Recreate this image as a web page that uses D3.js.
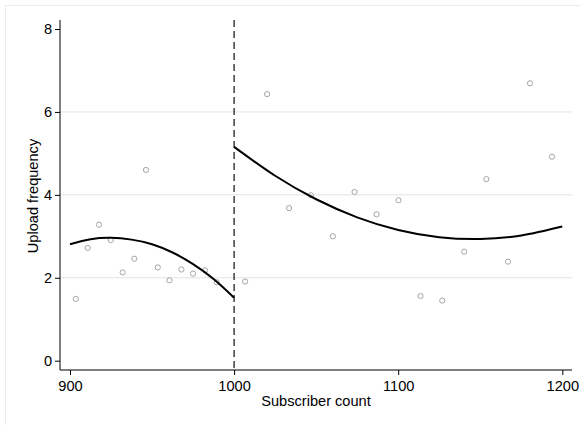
<!DOCTYPE html>
<html>
<head>
<meta charset="utf-8">
<script src="https://cdn.jsdelivr.net/npm/d3@7"></script>
<style>
  html, body { margin: 0; padding: 0; background: #fff; }
  svg { display: block; }
  text { font-family: "Liberation Sans", Arial, sans-serif; fill: #000; }
</style>
</head>
<body>
<svg id="chart" width="581" height="425"></svg>
<script>
// ---- data ----
const cutoff = 1000;
const xTicks = [900, 1000, 1100, 1200];
const yTicks = [0, 2, 4, 6, 8];
const gridTicks = [2, 4, 6];

// binned scatter points
const binX = [903.5, 910.8, 917.7, 924.8, 932.1, 939.2, 946.3, 953.5, 960.6, 967.9, 975.0, 982.3, 989.4,
              1006.7, 1020.1, 1033.5, 1046.8, 1060.2, 1073.4, 1086.8, 1100.2, 1113.6, 1126.8, 1140.2, 1153.7, 1166.9, 1180.3, 1193.7];
const binY = [1.49, 2.72, 3.28, 2.91, 2.13, 2.46, 4.60, 2.25, 1.94, 2.20, 2.10, 2.18, 1.89,
              1.91, 6.43, 3.68, 3.99, 3.00, 4.07, 3.53, 3.87, 1.56, 1.45, 2.63, 4.38, 2.39, 6.69, 4.92];

// fitted curve, left of cutoff
const leftFitX = [900, 912.5, 925, 937.5, 950, 962.5, 975, 987.5, 1000];
const leftFitY = [2.81, 2.93, 2.965, 2.92, 2.81, 2.61, 2.33, 1.97, 1.52];
// fitted curve, right of cutoff
const rightFitX = [1000, 1025, 1050, 1075, 1100, 1125, 1150, 1175, 1200];
const rightFitY = [5.157, 4.46, 3.894, 3.458, 3.153, 2.978, 2.934, 3.02, 3.236];

const xTitle = "Subscriber count";
const yTitle = "Upload frequency";

// ---- layout ----
const svg = d3.select("#chart");
const plot = { left: 60, right: 572, top: 20, bottom: 370 };
const fs = 14.6;

const x = d3.scaleLinear().domain([900, 1200]).range([70, 562.3]);
const y = d3.scaleLinear().domain([0, 8]).range([360.7, 29]);

// outer frame
svg.append("rect")
  .attr("x", 5.5).attr("y", 5.5)
  .attr("width", 620).attr("height", 460)
  .attr("fill", "#fff")
  .attr("stroke", "#e9edf0").attr("stroke-width", 1);

// grid
svg.append("g").selectAll("line").data(gridTicks).join("line")
  .attr("x1", plot.left).attr("x2", plot.right)
  .attr("y1", d => y(d)).attr("y2", d => y(d))
  .attr("stroke", "#e3e3e3").attr("stroke-width", 1);

// axes
const yAxis = d3.axisLeft(y).tickValues(yTicks).tickSize(5).tickPadding(3).tickFormat(d3.format("d"));
const gy = svg.append("g").attr("transform", `translate(${plot.left},0)`).call(yAxis);
gy.select(".domain").remove();
gy.append("line").attr("x1", 0).attr("x2", 0).attr("y1", plot.top).attr("y2", plot.bottom)
  .attr("stroke", "#000").attr("stroke-width", 1);
gy.selectAll(".tick line").attr("stroke", "#000");
gy.selectAll(".tick text").attr("font-size", fs).attr("font-family", "Liberation Sans, Arial, sans-serif").attr("fill", "#000");

const xAxis = d3.axisBottom(x).tickValues(xTicks).tickSize(5).tickPadding(6).tickFormat(d3.format("d"));
const gx = svg.append("g").attr("transform", `translate(0,${plot.bottom})`).call(xAxis);
gx.select(".domain").remove();
gx.append("line").attr("x1", plot.left).attr("x2", plot.right).attr("y1", 0).attr("y2", 0)
  .attr("stroke", "#000").attr("stroke-width", 1);
gx.selectAll(".tick line").attr("stroke", "#000");
gx.selectAll(".tick text").attr("font-size", fs).attr("font-family", "Liberation Sans, Arial, sans-serif").attr("fill", "#000");

// cutoff dashed line
svg.append("line")
  .attr("x1", x(cutoff)).attr("x2", x(cutoff))
  .attr("y1", plot.top).attr("y2", plot.bottom)
  .attr("stroke", "#222").attr("stroke-width", 1.3)
  .attr("stroke-dasharray", "7,4");

// scatter points
const pts = binX.map((d, i) => ({ x: d, y: binY[i] }));
svg.append("g").selectAll("circle").data(pts).join("circle")
  .attr("cx", d => x(d.x)).attr("cy", d => y(d.y)).attr("r", 2.6)
  .attr("fill", "none").attr("stroke", "#a6a6a6").attr("stroke-width", 1);

// fitted curves
const line = d3.line().x(d => x(d[0])).y(d => y(d[1])).curve(d3.curveNatural);
svg.append("path").datum(leftFitX.map((d, i) => [d, leftFitY[i]]))
  .attr("d", line).attr("fill", "none").attr("stroke", "#000").attr("stroke-width", 2);
svg.append("path").datum(rightFitX.map((d, i) => [d, rightFitY[i]]))
  .attr("d", line).attr("fill", "none").attr("stroke", "#000").attr("stroke-width", 2);

// titles
svg.append("text")
  .attr("x", (plot.left + plot.right) / 2).attr("y", 406)
  .attr("text-anchor", "middle").attr("font-size", fs)
  .text(xTitle);
svg.append("text")
  .attr("transform", `translate(38,${(plot.top + plot.bottom) / 2 + 1}) rotate(-90)`)
  .attr("text-anchor", "middle").attr("font-size", fs)
  .text(yTitle);
</script>
</body>
</html>
